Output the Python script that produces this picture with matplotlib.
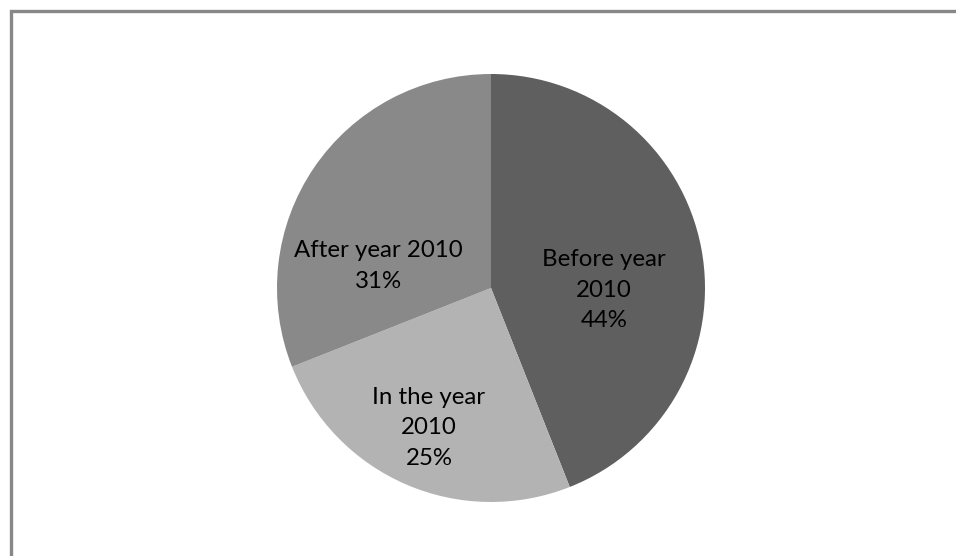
import matplotlib.pyplot as plt
from matplotlib.patches import Rectangle

# slices, clockwise from 12 o'clock
labels = ['Before year\n2010', 'In the year\n2010', 'After year 2010']
shares = [44, 25, 31]
colors = ['#5f5f5f', '#b3b3b3', '#898989']
# label centres in pie units (radius = 1)
label_pos = [(0.528, -0.01), (-0.29, -0.654), (-0.528, 0.103)]

W, H = 956, 556
fig = plt.figure(figsize=(W / 100, H / 100), dpi=100)

# outer chart frame (only top/left edges fall inside the image)
fig.patches.append(Rectangle((11 / W, -0.1), 1.2, (H - 11) / H + 0.1,
                             transform=fig.transFigure, fill=False,
                             edgecolor='#888888', lw=2.4))

cx, cy, r = 491, H - 288, 214
ax = fig.add_axes([(cx - r) / W, (cy - r) / H, 2 * r / W, 2 * r / H])
ax.pie(shares, colors=colors, startangle=90, counterclock=False,
       wedgeprops=dict(linewidth=0))
ax.set_xlim(-1, 1)
ax.set_ylim(-1, 1)
ax.set_aspect('equal')
ax.axis('off')

for lab, s, (x, y) in zip(labels, shares, label_pos):
    ax.text(x, y, '%s\n%d%%' % (lab, s), ha='center', va='center',
            fontsize=17.3, family='Lato', color='black', linespacing=1.57)

fig.savefig('out.png', dpi=100)
